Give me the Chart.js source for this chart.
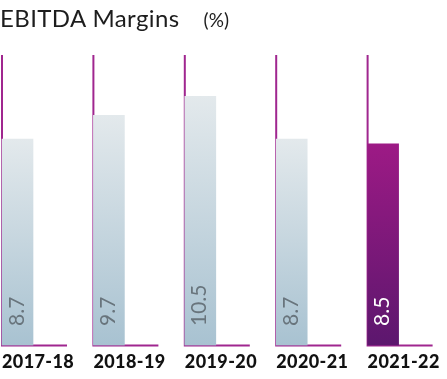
<!DOCTYPE html>
<html>
<head>
<meta charset="utf-8">
<script src="https://cdn.jsdelivr.net/npm/chart.js@4"></script>
<style>
  html, body { margin: 0; padding: 0; background: #fff; overflow: hidden; }
  #wrap { position: relative; width: 447px; height: 379px; }
  #title { position: absolute; left: 0; top: 3px; font-family: Lato, sans-serif; font-weight: 400; color: #1d1d1d; white-space: nowrap; }
  #title .main { font-size: 24px; letter-spacing: 0.4px; }
  #title .unit { font-size: 19px; margin-left: 24px; }
</style>
</head>
<body>
<div id="wrap">
  <div id="title"><span class="main">EBITDA Margins</span><span class="unit">(%)</span></div>
  <canvas id="ebitda" width="447" height="379"></canvas>
</div>
<script>
const years = ['2017-18', '2018-19', '2019-20', '2020-21', '2021-22']
const margins = [8.7, 9.7, 10.5, 8.7, 8.5]
const yAxisTop = 12.24

const lineColor = '#a0268f'

const barFill = (context) => {
  const chart = context.chart
  const i = context.dataIndex
  const last = i === years.length - 1
  if (!chart.chartArea) return last ? '#7a1a78' : '#c8d6de'
  const y = chart.scales.y
  const top = y.getPixelForValue(margins[i])
  const bottom = y.getPixelForValue(0)
  const g = chart.ctx.createLinearGradient(0, top, 0, bottom)
  if (last) {
    g.addColorStop(0, '#9d1a85')
    g.addColorStop(1, '#5c176e')
  } else {
    g.addColorStop(0, '#e3e9ec')
    g.addColorStop(1, '#a8c2d1')
  }
  return g
}

// L shaped axis per bar, value inside the bar, year under it
const cornerAxes = {
  id: 'cornerAxes',
  beforeDatasetsDraw(chart) {
    const {ctx, scales: {y}} = chart
    const meta = chart.getDatasetMeta(0)
    ctx.save()
    ctx.strokeStyle = lineColor
    ctx.lineWidth = 2
    meta.data.forEach((bar) => {
      const left = bar.x - bar.width / 2
      const base = y.getPixelForValue(0)
      const top = y.getPixelForValue(yAxisTop)
      ctx.beginPath()
      ctx.moveTo(left, top)
      ctx.lineTo(left, base)
      ctx.lineTo(left + 65, base)
      ctx.stroke()
    })
    ctx.restore()
  },
  afterDatasetsDraw(chart) {
    const {ctx} = chart
    const meta = chart.getDatasetMeta(0)
    ctx.save()
    ctx.font = '400 21px Lato'
    ctx.textAlign = 'left'
    ctx.textBaseline = 'alphabetic'
    meta.data.forEach((bar, i) => {
      ctx.save()
      ctx.translate(bar.x + 6, bar.base - 19.5)
      ctx.rotate(-Math.PI / 2)
      ctx.fillStyle = i === years.length - 1 ? '#ffffff' : '#68747c'
      ctx.fillText(margins[i].toFixed(1), 0, 0)
      ctx.restore()
    })
    ctx.font = '900 18px Lato'
    ctx.letterSpacing = '0.4px'
    ctx.fillStyle = '#111'
    meta.data.forEach((bar, i) => {
      ctx.fillText(years[i], bar.x - bar.width / 2, bar.base + 22)
    })
    ctx.restore()
  }
}

new Chart(document.getElementById('ebitda'), {
  type: 'bar',
  data: {
    datasets: [{
      data: margins.map((v, i) => ({x: i, y: v})),
      backgroundColor: barFill,
      barThickness: 31
    }]
  },
  options: {
    responsive: false,
    animation: false,
    layout: {padding: {top: 55, left: 0, right: 0, bottom: 33.5}},
    plugins: {legend: {display: false}, tooltip: {enabled: false}},
    scales: {
      x: {
        type: 'linear',
        display: false,
        offset: false,
        min: -0.1915,
        max: 4.6991
      },
      y: {
        display: false,
        min: 0,
        max: yAxisTop
      }
    }
  },
  plugins: [cornerAxes]
})
</script>
</body>
</html>
